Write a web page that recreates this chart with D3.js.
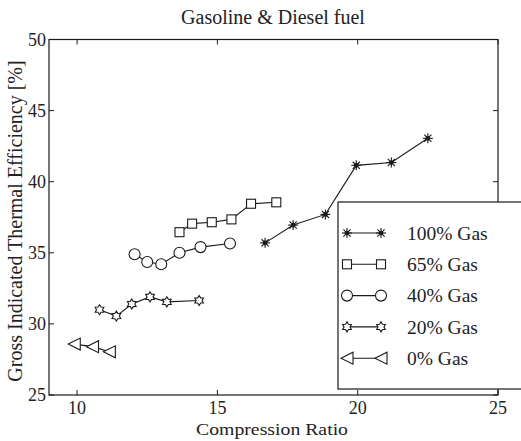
<!DOCTYPE html>
<html><head><meta charset="utf-8">
<script src="https://cdn.jsdelivr.net/npm/d3@7"></script>
<style>
html,body{margin:0;padding:0;background:#fff;}
svg text{font-family:"Liberation Serif","DejaVu Serif",serif;fill:#222;}
</style></head>
<body><svg id="c" width="521" height="441"></svg>
<script>
const xTicks = [10, 15, 20, 25];
const yTicks = [25, 30, 35, 40, 45, 50];
const seriesNames = ["100% Gas", "65% Gas", "40% Gas", "20% Gas", "0% Gas"];
const markers = ["asterisk", "square", "circle", "hexagram", "triangleLeft"];
const cr100 = [16.7, 17.7, 18.85, 19.95, 21.2, 22.5];
const eff100 = [35.7, 36.95, 37.7, 41.15, 41.35, 43.05];
const cr65 = [13.65, 14.1, 14.8, 15.5, 16.2, 17.1];
const eff65 = [36.45, 37.05, 37.15, 37.35, 38.45, 38.55];
const cr40 = [12.05, 12.5, 13.0, 13.65, 14.4, 15.45];
const eff40 = [34.9, 34.35, 34.2, 35.0, 35.4, 35.65];
const cr20 = [10.8, 11.4, 11.95, 12.6, 13.2, 14.35];
const eff20 = [31.0, 30.55, 31.4, 31.9, 31.55, 31.65];
const cr0 = [9.9, 10.55, 11.15];
const eff0 = [28.58, 28.4, 28.04];

const series = [
  {name: seriesNames[0], m: markers[0], xs: cr100, ys: eff100},
  {name: seriesNames[1], m: markers[1], xs: cr65, ys: eff65},
  {name: seriesNames[2], m: markers[2], xs: cr40, ys: eff40},
  {name: seriesNames[3], m: markers[3], xs: cr20, ys: eff20},
  {name: seriesNames[4], m: markers[4], xs: cr0, ys: eff0}
];

const L = 49, R = 498, T = 39.5, B = 395;
const x = d3.scaleLinear().domain([9, 25]).range([L, R]);
const y = d3.scaleLinear().domain([25, 50]).range([B, T]);
const svg = d3.select("#c");
const ink = "#1a1a1a";

// title
svg.append("text").attr("x", 273).attr("y", 24).attr("text-anchor", "middle")
  .attr("font-size", 20).text("Gasoline & Diesel fuel");

// axes box
const g = svg.append("g");
g.append("rect").attr("x", L).attr("y", T).attr("width", R - L).attr("height", B - T)
  .attr("fill", "none").attr("stroke", ink).attr("stroke-width", 1.2);

const tl = 5;
xTicks.forEach(t => {
  g.append("line").attr("x1", x(t)).attr("x2", x(t)).attr("y1", B).attr("y2", B - tl).attr("stroke", ink);
  g.append("line").attr("x1", x(t)).attr("x2", x(t)).attr("y1", T).attr("y2", T + tl).attr("stroke", ink);
  g.append("text").attr("x", x(t)).attr("y", 414).attr("text-anchor", "middle").attr("font-size", 18).text(t);
});
yTicks.forEach(t => {
  g.append("line").attr("x1", L).attr("x2", L + tl).attr("y1", y(t)).attr("y2", y(t)).attr("stroke", ink);
  g.append("line").attr("x1", R).attr("x2", R - tl).attr("y1", y(t)).attr("y2", y(t)).attr("stroke", ink);
  g.append("text").attr("x", 46).attr("y", y(t)).attr("dy", "0.35em").attr("text-anchor", "end").attr("font-size", 18).text(t);
});

svg.append("text").attr("x", 272).attr("y", 435).attr("text-anchor", "middle")
  .attr("font-size", 17.5).attr("textLength", 152).attr("lengthAdjust", "spacingAndGlyphs")
  .text("Compression Ratio");
svg.append("text").attr("transform", "translate(22,221) rotate(-90)").attr("text-anchor", "middle")
  .attr("font-size", 20).text("Gross Indicated Thermal Efficiency [%]");

function drawMarker(sel, type, cx, cy) {
  const s = sel.append("g").attr("transform", `translate(${cx},${cy})`)
    .attr("fill", "none").attr("stroke", ink).attr("stroke-width", 1.1);
  if (type === "asterisk") {
    const r = 5;
    [[0,-r,0,r],[-r,0,r,0],[-r*0.72,-r*0.72,r*0.72,r*0.72],[-r*0.72,r*0.72,r*0.72,-r*0.72]].forEach(a =>
      s.append("line").attr("x1", a[0]).attr("y1", a[1]).attr("x2", a[2]).attr("y2", a[3]));
    s.append("circle").attr("r", 1.8).attr("fill", ink);
  } else if (type === "square") {
    s.append("rect").attr("x", -4.5).attr("y", -4.5).attr("width", 9).attr("height", 9).attr("fill", "#fff");
  } else if (type === "circle") {
    s.append("circle").attr("r", 5.5).attr("fill", "#fff");
  } else if (type === "hexagram") {
    const pts = d3.range(12).map(i => {
      const a = Math.PI / 6 * i - Math.PI / 2;
      const r = i % 2 === 0 ? 5 : 3;
      return [r * Math.cos(a), r * Math.sin(a)];
    });
    s.append("polygon").attr("points", pts.map(p => p.join(",")).join(" ")).attr("fill", "#fff");
  } else if (type === "triangleLeft") {
    s.append("polygon").attr("points", "-6,0 6,-6 6,6").attr("fill", "#fff");
  }
}

const line = d3.line().x(d => x(d[0])).y(d => y(d[1]));
series.forEach(s => {
  const pts = s.xs.map((v, i) => [v, s.ys[i]]);
  svg.append("path").attr("d", line(pts)).attr("fill", "none").attr("stroke", ink).attr("stroke-width", 1.1);
});
series.forEach(s => {
  s.xs.forEach((v, i) => drawMarker(svg, s.m, x(v), y(s.ys[i])));
});

// legend
const lg = svg.append("g");
lg.append("rect").attr("x", 338).attr("y", 202).attr("width", 200).attr("height", 187)
  .attr("fill", "#fff").attr("stroke", ink).attr("stroke-width", 1.2);
series.forEach((s, i) => {
  const yy = 233 + i * 31.3;
  lg.append("line").attr("x1", 345).attr("x2", 383).attr("y1", yy).attr("y2", yy).attr("stroke", ink).attr("stroke-width", 1.1);
  drawMarker(lg, s.m, 347, yy);
  drawMarker(lg, s.m, 381, yy);
  lg.append("text").attr("x", 407).attr("y", yy).attr("dy", "0.35em").attr("font-size", 19.5).text(s.name);
});
</script></body></html>
